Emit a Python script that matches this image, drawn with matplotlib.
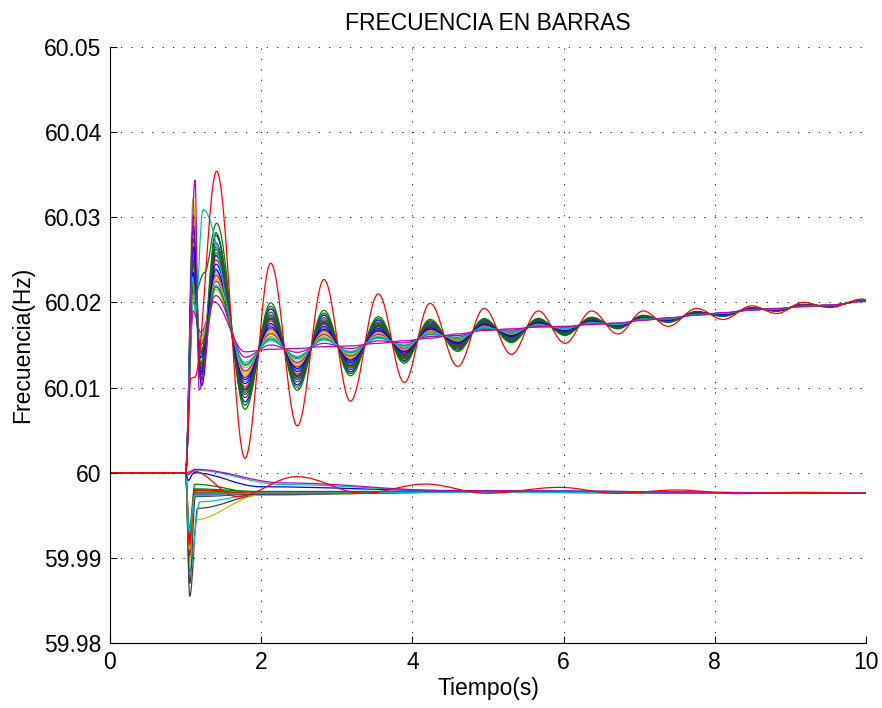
import matplotlib
matplotlib.use("Agg")
import matplotlib.pyplot as plt
from matplotlib.path import Path
from matplotlib.patches import PathPatch

plt.rcParams['font.family'] = ['Liberation Sans', 'DejaVu Sans']

# old matlab colour order
COLORS = {'b': (0, 0, 1), 'g': (0, 0.5, 0), 'r': (1, 0, 0), 'c': (0, 0.75, 0.75),
          'm': (0.75, 0, 0.75), 'y': (0.75, 0.75, 0), 'k': (0.25, 0.25, 0.25)}

# upper bus group: early transient (first peak, dip, main peak) then scaled oscillation
up_colors = ['g', 'b', 'y', 'k', 'g', 'b', 'r', 'c', 'm', 'y', 'k', 'g', 'b', 'r', 'c', 'm', 'y', 'k', 'b', 'g', 'c', 'm', 'r']
up_t1 = [1.10, 1.11, 1.10, 1.10, 1.10, 1.10, 1.10, 1.10, 1.10, 1.10, 1.10, 1.10, 1.10, 1.10, 1.10, 1.10, 1.10, 1.10, 1.10, 1.10, 1.09, 1.125, 1.07]
up_f1 = [60.0205, 60.0303, 60.0322, 60.0275, 60.0255, 60.0290, 60.0230, 60.0260, 60.0215, 60.0240, 60.0285, 60.0245, 60.0265, 60.0220, 60.0200, 60.0190, 60.0210, 60.0250, 60.0235, 60.0225, 60.0230, 60.0344, 60.0111]
up_t2 = [1.25, 1.20, 1.19, 1.20, 1.20, 1.21, 1.20, 1.19, 1.20, 1.21, 1.20, 1.20, 1.20, 1.21, 1.20, 1.20, 1.20, 1.20, 1.20, 1.20, 1.13, 1.18, 1.12]
up_f2 = [60.0235, 60.0109, 60.0135, 60.0115, 60.0125, 60.0102, 60.0140, 60.0120, 60.0150, 60.0130, 60.0110, 60.0128, 60.0118, 60.0145, 60.0160, 60.0165, 60.0155, 60.0122, 60.0135, 60.0142, 60.0190, 60.0097, 60.0112]
up_t3 = [1.41, 1.40, 1.40, 1.40, 1.40, 1.40, 1.40, 1.39, 1.40, 1.40, 1.40, 1.40, 1.40, 1.40, 1.40, 1.40, 1.40, 1.40, 1.40, 1.40, 1.23, 1.37, 1.41]
up_f3 = [60.0293, 60.0279, 60.0235, 60.0265, 60.0282, 60.0255, 60.0250, 60.0240, 60.0225, 60.0215, 60.0270, 60.0262, 60.0245, 60.0232, 60.0220, 60.0208, 60.0228, 60.0258, 60.0238, 60.0218, 60.0309, 60.0201, 60.0354]
up_scale = [0.54, 0.47, 0.20, 0.40, 0.50, 0.36, 0.33, 0.28, 0.18, 0.15, 0.43, 0.38, 0.30, 0.24, 0.10, 0.05, 0.22, 0.35, 0.26, 0.12, 0.13, 0.0, 1.0]

# extrema of the largest (red) oscillation and the common centre line at those times
osc_t = [1.786, 2.126, 2.478, 2.83, 3.18, 3.55, 3.893, 4.233, 4.6, 4.95, 5.31, 5.665, 6.02,
         6.37, 6.72, 7.055, 7.385, 7.76, 8.11, 8.49, 8.82, 9.17, 9.52, 9.96, 10.0]
osc_red = [60.0017, 60.0246, 60.0055, 60.0227, 60.0084, 60.0210, 60.0106, 60.0199, 60.0125,
           60.0193, 60.0139, 60.0190, 60.0152, 60.0190, 60.0163, 60.0190, 60.0172, 60.0193,
           60.0180, 60.0196, 60.0187, 60.0200, 60.0194, 60.0204, 60.0203]
osc_mid = [60.0142, 60.0145, 60.0146, 60.0148, 60.0149, 60.0152, 60.0155, 60.0158, 60.0163,
           60.0167, 60.0169, 60.0171, 60.0172, 60.0174, 60.0176, 60.0179, 60.0182, 60.0185,
           60.0188, 60.0191, 60.0193, 60.0195, 60.0197, 60.0201, 60.0201]

# lower bus group: dip, recovery, settle
lo_colors = ['g', 'k', 'y', 'c', 'r', 'g', 'b', 'k', 'y', 'g', 'r', 'c', 'b', 'c', 'm']
lo_dip_t = [1.05, 1.055, 1.05, 1.05, 1.05, 1.05, 1.05, 1.055, 1.05, 1.05, 1.05, 1.05, 1.035, 1.03, 1.03]
lo_dip = [59.9900, 59.9855, 59.9892, 59.9884, 59.9903, 59.9925, 59.9919, 59.9870, 59.9910, 59.9935, 59.9915, 59.9930, 59.9991, 59.9998, 59.9998]
lo_rec_t = [1.12, 1.16, 1.10, 1.19, 1.12, 1.12, 1.12, 1.13, 1.12, 1.12, 1.12, 1.12, 1.11, 1.12, 1.12]
lo_rec = [59.99864, 59.99582, 59.99444, 59.99659, 59.9980, 59.9977, 59.9975, 59.9972, 59.9978, 59.9981, 59.9979, 59.9973, 60.0000, 60.0003, 60.0004]
lo_mid_t = [2.0, 2.0, 2.0, 2.0, 2.0, 2.0, 2.0, 2.0, 2.0, 2.0, 2.0, 2.0, 2.0, 2.3, 2.3]
lo_mid = [59.9976, 59.9974, 59.9974, 59.9975, 59.9976, 59.9977, 59.9975, 59.9975, 59.9977, 59.9978, 59.9976, 59.9976, 59.99835, 59.9986, 59.9988]
lo_late = [59.9978, 59.9977, 59.9977, 59.9977, 59.9978, 59.9978, 59.9977, 59.9977, 59.9978, 59.9978, 59.9978, 59.9977, 59.9979, 59.9979, 59.9979]
lo_end = 59.9976

# the lower red curve that keeps swinging
lo_red_t = [1.0, 1.1, 1.68, 2.47, 3.35, 4.17, 4.98, 5.95, 6.7, 7.5, 8.3, 9.13, 10.0]
lo_red_f = [60.0, 60.0002, 59.9972, 59.99954, 59.99758, 59.99867, 59.99758, 59.99828, 59.99758, 59.99797, 59.99755, 59.9977, 59.9976]


def smooth_path(ts, fs):
    # cubic bezier between knots with flat tangents at every knot
    verts = [(ts[0], fs[0])]
    codes = [Path.MOVETO]
    for i in range(1, len(ts)):
        h = 0.36 * (ts[i] - ts[i - 1])
        verts += [(ts[i - 1] + h, fs[i - 1]), (ts[i] - h, fs[i]), (ts[i], fs[i])]
        codes += [Path.CURVE4] * 3
    return Path(verts, codes)


def draw(ax, ts, fs, color):
    ax.add_patch(PathPatch(smooth_path(ts, fs), fill=False, edgecolor=COLORS[color], lw=0.9))


fig = plt.figure(figsize=(8.82, 7.08), dpi=100)
ax = fig.add_axes([0.1247, 0.0918, 0.8571, 0.8418])

for i, col in enumerate(lo_colors):
    ts = [0.0, 1.0, lo_dip_t[i], lo_rec_t[i], lo_mid_t[i], 4.5, 10.0]
    fs = [60.0, 60.0, lo_dip[i], lo_rec[i], lo_mid[i], lo_late[i], lo_end]
    draw(ax, ts, fs, col)
draw(ax, [0.0] + lo_red_t, [60.0] + lo_red_f, 'r')

for i, col in enumerate(up_colors):
    k = up_scale[i]
    ts = [0.0, 1.0, up_t1[i], up_t2[i], up_t3[i]] + osc_t
    fs = [60.0, 60.0, up_f1[i], up_f2[i], up_f3[i]] + [m + k * (r - m) for r, m in zip(osc_red, osc_mid)]
    draw(ax, ts, fs, col)

ax.set_xlim(0, 10)
ax.set_ylim(59.98, 60.05)
ax.set_xticks([0, 2, 4, 6, 8, 10])
ax.set_yticks([59.98, 59.99, 60.0, 60.01, 60.02, 60.03, 60.04, 60.05])
ax.set_yticklabels(['59.98', '59.99', '60', '60.01', '60.02', '60.03', '60.04', '60.05'])
ax.tick_params(direction='in', length=5, width=0.8, labelsize=16.5, pad=6)
ax.spines['top'].set_visible(False)
ax.spines['right'].set_visible(False)
ax.grid(True, color='black', lw=0.6, linestyle=(0, (1.5, 11)))

ax.set_title('FRECUENCIA EN BARRAS', fontsize=16.5, pad=12)
ax.set_xlabel('Tiempo(s)', fontsize=16.5, labelpad=2)
ax.set_ylabel('Frecuencia(Hz)', fontsize=16.5, labelpad=7)

fig.savefig('out.png', dpi=100)
